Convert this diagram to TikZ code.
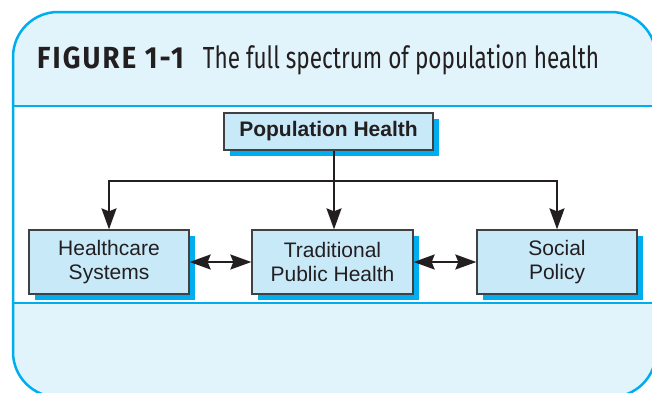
\documentclass[tikz,border=0pt]{standalone}
\usepackage{fontspec}
\setmainfont{Liberation Sans}
\newfontfamily\titlefont[FakeStretch=0.74]{Fira Sans}
\newfontfamily\titlebold[FakeStretch=0.9,LetterSpace=7]{Fira Sans}
\usetikzlibrary{arrows.meta,shadows}

\definecolor{frameblue}{HTML}{00AEEF}
\definecolor{bandfill}{HTML}{E1F3FB}
\definecolor{boxfill}{HTML}{C8E9F8}
\definecolor{boxline}{HTML}{414042}
\definecolor{ink}{HTML}{231F20}

\begin{document}
\begin{tikzpicture}[x=1pt,y=-1pt]
  \useasboundingbox (0,0) rectangle (652,392);
  \clip (0,0) rectangle (652,392);

  % frame and bands
  \fill[bandfill, rounded corners=45pt] (13,12) rectangle (656,397);
  \fill[white] (13,106) rectangle (656,303);
  \draw[frameblue, line width=2.2pt] (13,106) -- (656,106);
  \draw[frameblue, line width=2.2pt] (13,303) -- (656,303);
  \draw[frameblue, line width=2.5pt, rounded corners=45pt] (13,12) rectangle (656,397);

  \node[anchor=base west, text=ink, inner sep=0pt, font=\fontsize{30.5}{34}\selectfont] (title) at (37,68)
    {{\titlebold\bfseries FIGURE 1-1}\hspace{19pt}{\titlefont The full spectrum of population health}};

  \begin{scope}[every node/.style={draw=boxline, line width=1.3pt, fill=boxfill, text=ink,
      inner sep=0pt, align=center, font=\fontsize{21}{24}\selectfont,
      drop shadow={shadow xshift=6pt, shadow yshift=-6pt, fill=frameblue, opacity=1}}]
      \node[minimum width=209pt, minimum height=37pt, font=\bfseries\fontsize{21}{24}\selectfont] (pop) at (328.5,131.5) {Population Health};

      \node[minimum width=160pt, minimum height=64pt] (care) at (109,262) {Healthcare\\Systems};
      \node[minimum width=161pt, minimum height=64pt] (trad) at (332.5,262) {Traditional\\Public Health};
      \node[minimum width=160pt, minimum height=64pt] (soc) at (557,262) {Social\\Policy};
  \end{scope}

  \tikzset{thin arc/.style={-{Stealth[length=21pt, width=15pt, inset=3pt]}, ink, line width=2pt}}
  \tikzset{both arc/.style={{Stealth[length=21pt, width=15pt, inset=3pt]}-{Stealth[length=21pt, width=15pt, inset=3pt]}, ink, line width=2pt}}

  \coordinate (hub) at (334,181);

  \draw[ink, line width=2pt] (pop.south -| hub) -- (hub);
  \draw[thin arc] (hub) -| (care.north);
  \draw[thin arc] (hub) -- (hub |- trad.north);
  \draw[thin arc] (hub) -| (soc.north);

  \draw[both arc] (care) -- (trad);
  \draw[both arc] (trad) -- (soc);

\end{tikzpicture}
\end{document}
